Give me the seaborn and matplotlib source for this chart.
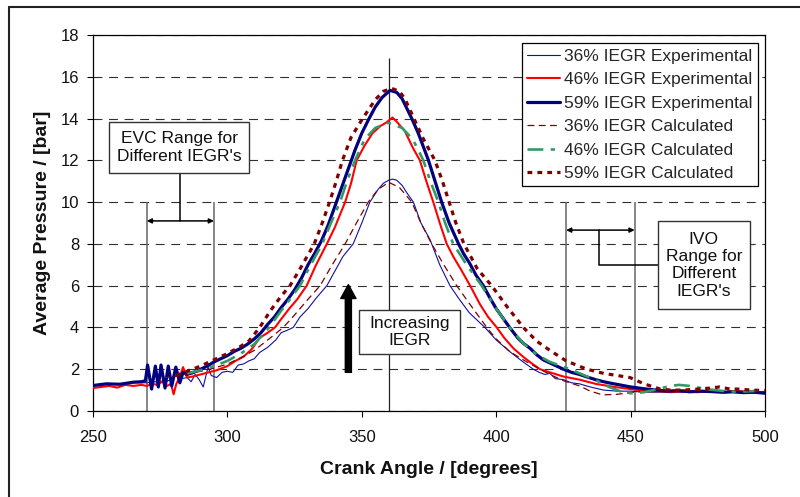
import matplotlib
matplotlib.use("Agg")
import matplotlib.pyplot as plt
import seaborn as sns
from matplotlib.patches import Rectangle
from matplotlib.lines import Line2D

# ---------------------------------
# Data
# ---------------------------------

exp36_angle = [250, 255, 260, 265, 270, 273, 276, 279, 281, 283,
               285, 286.5, 288, 289.5, 291, 292.8, 294, 296, 298, 300,
               302, 304, 306, 308, 310, 312, 315, 318, 320, 322,
               324.5, 327, 330, 333, 337, 340, 343, 346.8, 350, 353,
               356, 358, 360, 361.5, 363, 365, 367, 369.2, 372, 375.4,
               379, 382.8, 386, 390, 395.8, 400, 405, 410, 413.8, 416,
               418, 420, 422, 425, 428, 431, 435, 440, 445, 450,
               455, 460, 470, 480, 490, 500]
exp36_p = [1.25, 1.30, 1.30, 1.35, 1.35, 1.40, 1.35, 1.50, 1.70, 1.55,
           1.60, 1.40, 1.75, 1.50, 1.15, 2.10, 1.70, 1.60, 1.85, 1.90,
           1.85, 2.20, 2.25, 2.40, 2.50, 2.80, 3.05, 3.40, 3.75, 3.85,
           4.00, 4.50, 4.90, 5.40, 6.00, 6.70, 7.40, 8.00, 9.00, 10.00,
           10.60, 10.90, 11.05, 11.10, 11.05, 10.80, 10.40, 10.00, 9.00, 8.20,
           7.00, 6.00, 5.40, 4.70, 4.00, 3.40, 2.85, 2.35, 2.00, 1.85,
           1.75, 1.80, 1.55, 1.50, 1.35, 1.30, 1.15, 1.00, 0.95, 0.95,
           0.90, 0.90, 0.90, 0.90, 0.88, 0.85]

exp46_angle = [250, 253, 256, 259, 262, 265, 268, 270, 272, 274,
               276, 277.5, 279, 280, 281, 282.5, 283.5, 285, 287, 290,
               293, 296, 300, 303, 306, 309, 312, 315, 317.7, 320,
               323, 326, 329.5, 333, 337, 340, 343.8, 346, 348.1, 351,
               354, 357, 359, 361.4, 363, 366, 369, 371.6, 374, 376.6,
               379, 381.6, 384, 387, 390.3, 394, 397, 400.2, 403, 406.4,
               410, 413, 416.3, 420, 425, 431, 437, 444, 450, 456,
               460, 465, 470, 475, 480, 485, 490, 495, 500]
exp46_p = [1.10, 1.15, 1.20, 1.12, 1.25, 1.20, 1.25, 1.20, 1.30, 1.25,
           1.45, 1.20, 1.30, 0.80, 1.30, 1.70, 2.10, 1.60, 1.65, 1.75,
           1.85, 1.95, 2.15, 2.40, 2.60, 2.95, 3.50, 3.75, 4.00, 4.40,
           4.90, 5.35, 6.00, 7.00, 8.00, 8.80, 10.00, 10.90, 12.00, 12.70,
           13.30, 13.65, 13.80, 14.05, 13.85, 13.40, 12.60, 12.00, 11.00, 10.00,
           9.00, 8.00, 7.40, 6.75, 6.00, 5.10, 4.50, 4.00, 3.50, 3.00,
           2.60, 2.30, 2.00, 1.85, 1.65, 1.50, 1.30, 1.15, 1.05, 0.95,
           0.95, 0.90, 0.95, 0.90, 0.95, 0.88, 0.95, 0.90, 0.90]

exp59_angle = [250, 255, 260, 265, 268, 269.5, 270.3, 271.8, 273.2, 274.3,
               275.3, 276.8, 278.0, 279.3, 280.8, 282.3, 283.5, 285, 287.5, 290,
               292.5, 295, 297.5, 300, 302.5, 305, 307.5, 310, 312.5, 315,
               317.5, 320, 322.5, 325, 327.5, 330, 332.5, 335, 337.5, 340,
               342.5, 345, 347.5, 350, 352.5, 355, 357.5, 360.5, 363, 365,
               368.6, 371, 374.8, 377, 379.7, 382.5, 386, 388, 390, 392.5,
               395.2, 397.5, 400, 402.5, 405, 408, 410, 412.6, 415, 417.5,
               420, 422.5, 425, 428, 431, 434, 437, 440, 443, 446,
               450, 453, 456, 460, 464, 468, 472, 476, 480, 484,
               488, 492, 496, 500]
exp59_p = [1.22, 1.30, 1.28, 1.38, 1.40, 1.45, 2.20, 1.05, 2.15, 1.15,
           2.20, 1.10, 2.15, 1.20, 2.10, 1.35, 1.85, 1.75, 1.85, 2.00,
           2.15, 2.35, 2.50, 2.65, 2.85, 3.00, 3.20, 3.45, 3.75, 4.15,
           4.50, 4.95, 5.35, 5.80, 6.35, 7.00, 7.55, 8.15, 8.90, 9.80,
           10.70, 11.60, 12.50, 13.30, 13.95, 14.55, 15.00, 15.35, 15.25, 14.95,
           14.00, 13.30, 12.00, 11.10, 10.00, 9.00, 8.00, 7.50, 7.10, 6.50,
           6.00, 5.45, 4.90, 4.45, 4.00, 3.50, 3.25, 3.00, 2.70, 2.45,
           2.30, 2.15, 2.00, 1.85, 1.75, 1.62, 1.50, 1.40, 1.32, 1.25,
           1.15, 1.10, 1.05, 1.00, 0.95, 0.98, 0.92, 0.95, 0.93, 0.90,
           0.92, 0.88, 0.90, 0.85]

calc36_angle = [276, 280, 285, 290, 295, 300, 305, 310, 315, 320.8,
                325, 330, 334.5, 339, 343.8, 348, 352.4, 356, 360, 364,
                368.6, 372, 376, 380.5, 385.3, 390, 396.5, 400, 405, 410,
                416.3, 420, 425, 431, 435, 439.7, 445, 450, 455, 460,
                470, 480, 490, 500]
calc36_p = [1.60, 1.65, 1.75, 1.90, 2.05, 2.25, 2.55, 2.90, 3.40, 4.00,
            4.60, 5.35, 6.00, 7.00, 8.00, 9.00, 10.00, 10.60, 10.95, 10.70,
            10.00, 9.00, 8.00, 7.00, 6.00, 5.15, 4.00, 3.45, 2.85, 2.45,
            2.00, 1.75, 1.45, 1.20, 0.95, 0.77, 0.80, 0.88, 0.95, 1.00,
            1.00, 0.98, 0.95, 0.93]

calc46_angle = [285, 290, 295, 300, 305, 310, 315.2, 320, 323, 327,
                331, 335.3, 338.5, 341.9, 344.5, 347.5, 351, 355, 360, 365,
                369, 372.9, 375.5, 378.5, 381, 384, 389, 394.6, 400, 405,
                410, 415, 420, 427.5, 432, 437.5, 442, 446, 450, 455,
                460, 465, 468, 472, 478, 485, 490, 495, 500]
calc46_p = [1.80, 1.95, 2.15, 2.40, 2.75, 3.20, 3.95, 4.80, 5.30, 6.00,
            7.00, 8.00, 9.00, 10.00, 11.00, 12.00, 13.00, 13.55, 13.80, 13.55,
            13.00, 12.00, 11.00, 10.00, 9.00, 8.00, 7.00, 6.00, 4.90, 4.00,
            3.25, 2.70, 2.35, 2.00, 1.75, 1.45, 1.15, 0.95, 0.85, 0.90,
            1.05, 1.20, 1.25, 1.20, 1.05, 0.95, 0.92, 0.95, 1.00]

calc59_angle = [281, 285, 290, 295, 300, 305, 308, 312, 316, 320,
                323.3, 327, 332.3, 335, 338, 340.5, 342.8, 346, 350.3, 355,
                358, 361, 364, 366, 369.4, 373, 377.2, 380, 382.5, 385,
                388, 393, 398.3, 404, 410.1, 415, 420, 426, 433.7, 440,
                445, 449.8, 455, 461, 465, 470, 475, 480, 483, 487,
                490, 495, 500]
calc59_p = [1.70, 1.90, 2.15, 2.45, 2.75, 3.10, 3.35, 4.00, 4.80, 5.50,
            6.00, 6.80, 8.00, 8.90, 10.00, 11.00, 12.00, 13.10, 14.00, 14.90,
            15.30, 15.45, 15.30, 14.95, 14.00, 13.00, 12.00, 11.00, 10.00, 9.00,
            8.00, 6.80, 6.00, 5.00, 4.00, 3.35, 2.90, 2.40, 2.00, 1.80,
            1.70, 1.60, 1.30, 1.05, 1.00, 1.00, 1.05, 1.10, 1.15, 1.05,
            1.05, 1.00, 0.98]

series_labels = ["36% IEGR Experimental", "46% IEGR Experimental",
                 "59% IEGR Experimental", "36% IEGR Calculated",
                 "46% IEGR Calculated", "59% IEGR Calculated"]

x_ticks = [250, 300, 350, 400, 450, 500]
y_ticks = [0, 2, 4, 6, 8, 10, 12, 14, 16, 18]

# valve event ranges / TDC marker
evc_range = [270, 295]
ivo_range = [426, 451.5]
tdc_angle = 360

# ---------------------------------
# Plot
# ---------------------------------

sns.set_theme(style="white")
plt.rcParams['font.family'] = ['Liberation Sans', 'DejaVu Sans']

fig = plt.figure(figsize=(8, 4.97), dpi=100)
ax = fig.add_axes([93 / 800, 1 - 411 / 497, 672 / 800, 376 / 497])

styles = [
    (exp36_angle, exp36_p, "#1010a0", 0.8, "-"),
    (exp46_angle, exp46_p, "#ff0000", 1.5, "-"),
    (exp59_angle, exp59_p, "#000080", 2.3, "-"),
    (calc36_angle, calc36_p, "#800000", 0.9, (0, (5.5, 3.5))),
    (calc46_angle, calc46_p, "#339966", 1.9, (0, (6.0, 2.8, 1.6, 2.8))),
    (calc59_angle, calc59_p, "#800000", 2.3, (0, (1.5, 1.6))),
]

for (xs, ys, col, lw, ls), lab in zip(styles, series_labels):
    sns.lineplot(x=xs, y=ys, ax=ax, color=col, linewidth=lw,
                 linestyle=ls, label=lab, estimator=None, sort=False,
                 zorder=4)

# vertical reference lines
ax.vlines(evc_range, 0, 10, color="#666666", linewidth=1.1, zorder=2)
ax.vlines(ivo_range, 0, 10, color="#666666", linewidth=1.1, zorder=2)
ax.vlines(tdc_angle, 0, 16.9, color="#222222", linewidth=0.9, zorder=2)

arrow_kw = dict(arrowstyle="<|-|>", color="black", lw=1.1,
                mutation_scale=7, shrinkA=0, shrinkB=0)

# EVC annotation
ax.annotate("", xy=(evc_range[0], 9.1), xytext=(evc_range[1], 9.1),
            arrowprops=arrow_kw, zorder=5)
evc_mid = (evc_range[0] + evc_range[1]) / 2
ax.plot([evc_mid, evc_mid], [9.1, 11.39], color="black", lw=1.1, zorder=5)
ax.add_patch(Rectangle((255.95, 11.39), 52.05, 2.44, facecolor="white",
                       edgecolor="#333333", lw=1.0, zorder=6))
ax.text(282, 12.61, "EVC Range for\nDifferent IEGR's", ha="center",
        va="center", fontsize=12.5, zorder=7, color="#111111")

# IVO annotation
ax.annotate("", xy=(ivo_range[0], 8.66), xytext=(ivo_range[1], 8.66),
            arrowprops=arrow_kw, zorder=5)
ax.plot([438.4, 438.4, 460.1], [8.66, 7.0, 7.0], color="black", lw=1.1,
        zorder=5)
ax.add_patch(Rectangle((460.1, 4.88), 34.3, 4.21, facecolor="white",
                       edgecolor="#333333", lw=1.0, zorder=6))
ax.text(477.25, 6.98, "IVO\nRange for\nDifferent\nIEGR's", ha="center",
        va="center", fontsize=12.5, zorder=7, color="#111111")

# Increasing IEGR
ax.annotate("", xy=(345, 6.05), xytext=(345, 1.85),
            arrowprops=dict(arrowstyle="simple,head_length=0.5,head_width=0.55,tail_width=0.22",
                            color="black", mutation_scale=20,
                            shrinkA=0, shrinkB=0), zorder=5)
ax.add_patch(Rectangle((349, 2.73), 37.5, 2.1, facecolor="white",
                       edgecolor="#333333", lw=1.0, zorder=6))
ax.text(367.75, 3.78, "Increasing\nIEGR", ha="center", va="center",
        fontsize=12.5, zorder=7, color="#111111")

# axes styling
ax.set_xlim(250, 500)
ax.set_ylim(0, 18)
ax.set_xticks(x_ticks)
ax.set_yticks(y_ticks)
ax.grid(axis="y", color="#303030", linestyle=(0, (8, 6)), linewidth=0.8)
ax.grid(axis="x", visible=False)
ax.set_axisbelow(True)
for sp in ax.spines.values():
    sp.set_color("black")
    sp.set_linewidth(0.9)
    sp.set_visible(True)
ax.tick_params(axis="both", direction="out", length=4, width=0.8,
               color="black", labelsize=12, labelcolor="#111111",
               bottom=True, left=True)
ax.tick_params(axis="x", pad=10)
ax.tick_params(axis="y", pad=6)

ax.set_xlabel("Crank Angle / [degrees]", fontsize=14, fontweight="bold",
              va="center", color="#111111")
ax.set_ylabel("Average Pressure / [bar]", fontsize=14, fontweight="bold",
              va="center", color="#111111")
ax.xaxis.set_label_coords(0.5, -0.155)
ax.yaxis.set_label_coords(-0.075, 0.5)

leg = ax.legend(loc="upper left", bbox_to_anchor=(0.638, 0.978),
                fontsize=12.5, frameon=True, fancybox=False, framealpha=1,
                edgecolor="black", borderpad=0.3, labelspacing=0.48,
                handlelength=1.9, handletextpad=0.25, borderaxespad=0)
leg.get_frame().set_linewidth(0.9)
leg.set_zorder(8)

# outer chart frame (left and top)
fig.add_artist(Line2D([9 / 800, 9 / 800], [0, 1 - 7 / 497],
                      transform=fig.transFigure, color="#222222", lw=1.5))
fig.add_artist(Line2D([9 / 800, 1], [1 - 7 / 497, 1 - 7 / 497],
                      transform=fig.transFigure, color="#222222", lw=1.5))

fig.savefig("out.png", dpi=100)
